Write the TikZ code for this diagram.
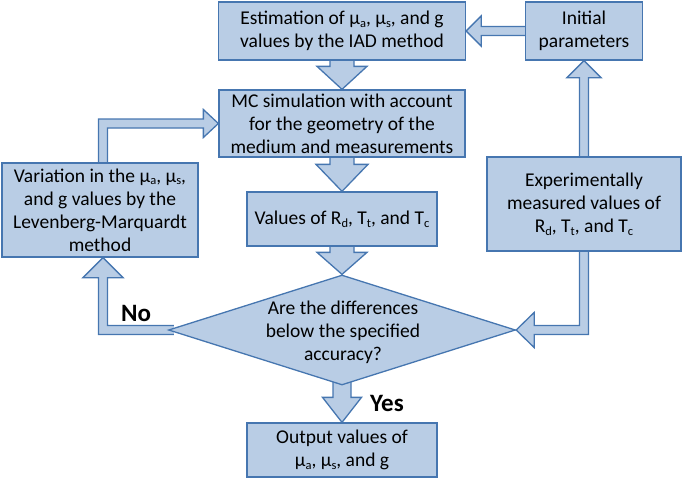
\documentclass[tikz,border=0pt]{standalone}
\usepackage{fontspec}
\setmainfont{Carlito}
\usetikzlibrary{calc,shapes.geometric,backgrounds}
\definecolor{bfill}{RGB}{185,205,229}
\definecolor{bline}{RGB}{70,118,176}
\newcommand\sbs[1]{\raisebox{-0.3ex}{\fontsize{12.5}{12.5}\selectfont #1}}
% down block arrow: shaft top, tip, shaft half, head half, head length
\newcommand\downblk[5]{%
  \draw[arr] ($(#1)+(-#3,0)$) -- ($(#2)+(-#3,-#5)$) -- ($(#2)+(-#4,-#5)$) -- (#2)
    -- ($(#2)+(#4,-#5)$) -- ($(#2)+(#3,-#5)$) -- ($(#1)+(#3,0)$);}
\begin{document}
\begin{tikzpicture}[x=1pt,y=-1pt,
  box/.style={draw=bline, fill=bfill, line width=1.3pt, align=center, inner sep=0pt,
    font=\fontsize{19.5}{23}\selectfont},
  decision/.style={draw=bline, fill=bfill, line width=1.3pt, diamond, inner sep=0pt,
    minimum width=347pt, minimum height=110pt},
  txt/.style={align=center, inner sep=0pt, font=\fontsize{19.5}{23}\selectfont},
  arr/.style={draw=bline, fill=bfill, line width=1.3pt, line join=miter},
  lbl/.style={inner sep=0pt, font=\fontsize{25}{28}\selectfont\bfseries}]
\useasboundingbox (0,0) rectangle (685,479);

\node[box, minimum width=247pt, minimum height=58pt] (est) at (342,31)
  {Estimation of µ\sbs{a}, µ\sbs{s}, and g\\values by the IAD method};
\node[box, minimum width=117pt, minimum height=58pt] (init) at (584,31)
  {Initial\\parameters};
\node[box, minimum width=246pt, minimum height=67pt] (mc) at (342,123.5)
  {MC simulation with account\\for the geometry of the\\medium and measurements};
\node[box, minimum width=196pt, minimum height=94pt] (var) at (100,210)
  {Variation in the µ\sbs{a}, µ\sbs{s},\\and g values by the\\Levenberg-Marquardt\\method};
\node[box, minimum width=190pt, minimum height=54pt] (val) at (342,219)
  {Values of R\sbs{d}, T\sbs{t}, and T\sbs{c}};
\node[box, minimum width=194pt, minimum height=94pt] (exp) at (584,204)
  {Experimentally\\measured values of\\R\sbs{d}, T\sbs{t}, and T\sbs{c}};
\node[decision] (dec) at (342,330) {};
\node[txt] (dect) at (343,332) {Are the differences\\below the specified\\accuracy?};
\node[box, minimum width=190pt, minimum height=54pt] (out) at (342,450)
  {Output values of\\µ\sbs{a}, µ\sbs{s}, and g};

\node[lbl] (no) at (136,313) {No};
\node[lbl] (yes) at (387,403) {Yes};

\begin{pgfonlayer}{background}
  % vertical block arrows in the main column
  \downblk{est.south}{mc.north}{12}{25}{23}
  \downblk{mc.south}{val.north}{12}{26}{27}
  \downblk{val.south}{dec.north}{12}{25}{22}
  \downblk{$(dec.south)+(0,-10)$}{out.north}{9}{19.5}{25}
  % initial parameters -> estimation
  \draw[arr] ($(init.west)+(0,-4.5)$) -- ($(est.east)+(15,-4.5)$) -- ($(est.east)+(15,-15)$)
    -- (est.east) -- ($(est.east)+(15,15)$) -- ($(est.east)+(15,4.5)$) -- ($(init.west)+(0,4.5)$);
  % experimental -> initial
  \draw[arr] ($(exp.north)+(-4.5,0)$) -- ($(init.south)+(-4.5,17)$) -- ($(init.south)+(-17,17)$)
    -- (init.south) -- ($(init.south)+(17,17)$) -- ($(init.south)+(4.5,17)$) -- ($(exp.north)+(4.5,0)$);
  % experimental -> decision
  \coordinate (c1) at (exp.south |- dec.east);
  \draw[arr] ($(exp.south)+(-4.5,0)$) -- ($(c1)+(-4.5,-4.5)$) -- ($(dec.east)+(18,-4.5)$)
    -- ($(dec.east)+(18,-17.5)$) -- (dec.east) -- ($(dec.east)+(18,17.5)$)
    -- ($(dec.east)+(18,4.5)$) -- ($(c1)+(4.5,4.5)$) -- ($(exp.south)+(4.5,0)$);
  % decision -> variation (No)
  \coordinate (vs) at ($(var.south)+(3,0)$);
  \coordinate (c2) at (vs |- dec.west);
  \draw[arr] ($(dec.west)+(6,-4.5)$) -- ($(c2)+(4.5,-4.5)$) -- ($(vs)+(4.5,20)$)
    -- ($(vs)+(20,20)$) -- (vs) -- ($(vs)+(-20,20)$) -- ($(vs)+(-4.5,20)$)
    -- ($(c2)+(-4.5,4.5)$) -- ($(dec.west)+(6,4.5)$);
  % variation -> MC
  \coordinate (vn) at ($(var.north)+(3,0)$);
  \coordinate (c3) at (vn |- mc.west);
  \draw[arr] ($(vn)+(-4.5,0)$) -- ($(c3)+(-4.5,-4.5)$) -- ($(mc.west)+(-15,-4.5)$)
    -- ($(mc.west)+(-15,-14)$) -- (mc.west) -- ($(mc.west)+(-15,14)$)
    -- ($(mc.west)+(-15,4.5)$) -- ($(c3)+(4.5,4.5)$) -- ($(vn)+(4.5,0)$);
\end{pgfonlayer}
\end{tikzpicture}
\end{document}
